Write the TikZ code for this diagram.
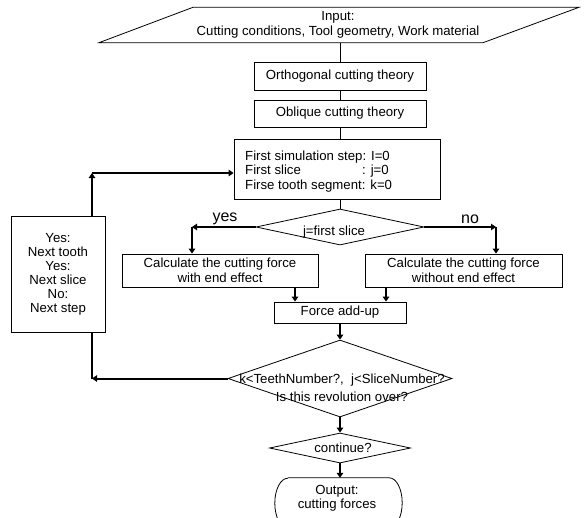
\documentclass[tikz,border=0pt]{standalone}
\usepackage{fontspec}
\setmainfont{Liberation Sans}
\usetikzlibrary{shapes.geometric,arrows.meta}
\newcommand{\myfs}{\fontsize{13.2}{15}\selectfont}
\begin{document}
\begin{tikzpicture}[x=1pt,y=-1pt,
  box/.style={draw, line width=0.8pt, rectangle, inner sep=0pt, font=\myfs, align=center},
  dia/.style={draw, line width=0.8pt, diamond, inner sep=0pt},
  conn/.style={line width=0.8pt},
  arr/.style={line width=2pt, -{Triangle[length=5pt,width=6.5pt]}},
  heavy/.style={line width=2pt},
  lbl/.style={font=\myfs, align=center, inner sep=0pt},
  big/.style={font=\fontsize{16}{18}\selectfont, inner sep=0pt}]
\useasboundingbox (0,0) rectangle (586,517);
\fill[white] (0,0) rectangle (586,517);

% input parallelogram
\draw[conn] (193,7.3) -- (579,7.3) -- (483,42.7) -- (99,42.7) -- cycle;
\node[lbl, minimum height=35.4] (in) at (338,25) {Input:\\Cutting conditions, Tool geometry, Work material};

\node[box, minimum width=172, minimum height=28] (ortho) at (340,76) {Orthogonal cutting theory};
\node[box, minimum width=172, minimum height=27] (obl) at (340,113.5) {Oblique cutting theory};
\node[box, minimum width=206, minimum height=60] (sim) at (337,169) {};
\node[lbl, anchor=west, align=left, font=\fontsize{13.2}{14.5}\selectfont] (simt) at (245,171.5)
  {First simulation step: I=0\\ \makebox[117pt][l]{First slice}: j=0\\ Firse tooth segment: k=0};

\node[dia, minimum width=168, minimum height=36] (d1) at (340,227) {};
\node[lbl] (d1t) at (334,232) {j=first slice};
\node[big] (yes) at (225,219) {yes};
\node[big] (no) at (470,219) {no};

\node[box, minimum width=196, minimum height=33] (calcL) at (220,270.5) {Calculate the cutting force\\with end effect};
\node[box, minimum width=197, minimum height=33] (calcR) at (463.5,270.5) {Calculate the cutting force\\without end effect};
\node[box, minimum width=132, minimum height=21] (add) at (340,312.5) {Force add-up};

\node[dia, minimum width=224, minimum height=77] (d2) at (340,378.5) {};
\node[lbl, font=\fontsize{13.2}{18}\selectfont] (d2t) at (342,388) {k<TeethNumber?,\ \ j<SliceNumber?\\Is this revolution over?};

\node[dia, minimum width=141, minimum height=30] (d3) at (340,448) {};
\node[lbl] (d3t) at (343,448) {continue?};

% output: terminal with elliptic ends
\node[inner sep=0pt, minimum width=127, minimum height=50] (out) at (338.5,503) {};
\node[lbl, font=\fontsize{13.2}{14}\selectfont] (outt) at (337,498) {Output:\\cutting forces};
\draw[conn] ([xshift=13pt]out.north west) -- ([xshift=-13pt]out.north east)
  arc[start angle=90, end angle=-90, x radius=13pt, y radius=25pt]
  -- ([xshift=13pt]out.south west)
  arc[start angle=-90, end angle=-270, x radius=13pt, y radius=25pt];

\node[box, minimum width=94, minimum height=116, font=\fontsize{13.2}{14}\selectfont] (yesbox) at (58,274)
  {Yes:\\Next tooth\\Yes:\\Next slice\\No:\\Next step};

% connectors
\draw[conn] (ortho.north |- in.south) -- (ortho.north);
\draw[conn] (ortho) -- (obl);
\draw[conn] (obl) -- (obl |- sim.north);
\draw[conn] (d1.north |- sim.south) -- (d1.north);

\coordinate (yc) at (192,227);
\draw[arr] (d1.west) -- (yc);
\draw[arr] (yc) -- (yc |- calcL.north);
\coordinate (nc) at (496,227);
\draw[arr] (d1.east) -- (nc);
\draw[arr] (nc) -- (nc |- calcR.north);

\coordinate (la) at (295,0);
\coordinate (ra) at (386,0);
\draw[arr] (calcL.south -| la) -- (add.north -| la);
\draw[arr] (calcR.south -| ra) -- (add.north -| ra);
\draw[arr] (add) -- (d2);

\coordinate (lc) at (92,378.5);
\draw[arr] (d2.west) -- (lc);
\draw[heavy] (lc) -- (lc |- yesbox.south);
\coordinate (uc) at (92,173);
\draw[arr] (lc |- yesbox.north) -- (uc);
\draw[arr] (uc) -- (uc -| sim.west);

\draw[arr] (d2) -- (d3);
\draw[arr] (d3.south) -- (d3.south |- out.north);
\end{tikzpicture}
\end{document}
